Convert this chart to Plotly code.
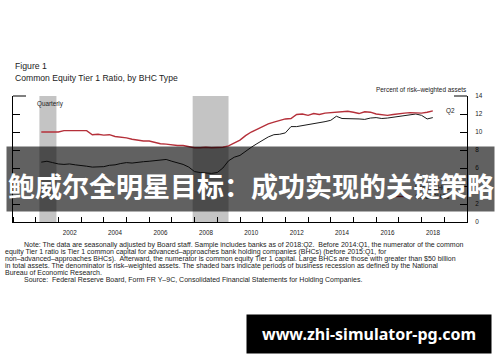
import plotly.graph_objects as go
import pandas as pd

# ---------------- data ----------------
quarters = pd.period_range("2001Q1", "2018Q2", freq="Q")
dates = [p.end_time.strftime("%Y-%m-%d") for p in quarters]

other_bhcs = [10.0, 10.0, 10.05, 10.0, 10.15, 10.15, 10.15, 10.1, 10.15, 9.7,
              9.75, 9.65, 9.7, 9.5, 9.45, 9.35, 9.2, 9.1, 9.0, 9.0,
              8.85, 8.7, 8.65, 8.55, 8.5, 8.5, 8.4, 8.25, 8.25, 8.3,
              8.25, 8.3, 8.3, 8.45, 8.8, 9.1, 9.6, 10.0, 10.3, 10.6,
              10.9, 11.1, 11.3, 11.45, 11.5, 11.95, 12.0, 11.85, 12.05, 11.95,
              12.1, 12.15, 12.2, 12.3, 12.3, 12.2, 12.05, 12.25, 12.2, 12.0,
              11.9, 11.85, 11.95, 12.05, 12.1, 12.15, 12.1, 12.1, 12.2, 12.35]

large_bhcs = [6.65, 6.75, 6.6, 6.45, 6.4, 6.45, 6.35, 6.3, 6.2, 6.1,
              6.1, 6.15, 6.3, 6.35, 6.5, 6.6, 6.55, 6.65, 6.7, 6.75,
              6.8, 6.85, 6.95, 6.75, 6.6, 6.4, 6.1, 5.6, 5.5, 5.45,
              5.4, 5.5, 6.0, 6.8, 7.2, 7.4, 7.9, 8.3, 8.7, 9.1,
              9.45, 9.7, 9.75, 9.9, 10.6, 10.6, 10.7, 10.85, 10.95, 11.0,
              11.15, 11.3, 11.75, 11.5, 11.5, 11.5, 11.45, 11.4, 11.55, 11.6,
              11.5, 11.55, 11.65, 11.75, 11.85, 11.9, 12.0, 11.85, 11.45, 11.6]

recession_starts = ["2001-03-01", "2007-12-01"]
recession_ends = ["2001-11-30", "2009-06-30"]

year_labels = [str(y) for y in range(2002, 2019, 2)]
year_label_pos = [f"{y}-07-01" for y in range(2002, 2019, 2)]
y_ticks = list(range(0, 15, 2))

series_names = ["Large BHCs", "Other BHCs"]
series_colors = ["#1a1a1a", "#b5303a"]

title_lines = ["Figure 1", "Common Equity Tier 1 Ratio, by BHC Type"]
note_lines = [
    "Note: The data are seasonally adjusted by Board staff. Sample includes banks as of 2018:Q2.  Before 2014:Q1, the numerator of the common",
    "equity Tier 1 ratio is Tier 1 common capital for advanced\u2013approaches bank holding companies (BHCs) (before 2015:Q1, for",
    "non\u2013advanced\u2013approaches BHCs).  Afterward, the numerator is common equity Tier 1 capital. Large BHCs are those with greater than $50 billion",
    "in total assets. The denominator is risk\u2013weighted assets. The shaded bars indicate periods of business recession as defined by the National",
    "Bureau of Economic Research.",
    "Source:  Federal Reserve Board, Form FR Y\u20139C, Consolidated Financial Statements for Holding Companies.",
]
banner_text = "鲍威尔全明星目标：成功实现的关键策略"
watermark_text = "www.zhi-simulator-pg.com"

# ---------------- layout geometry (pixels) ----------------
W, H = 500, 362
L, R, T, B = 13, 467, 96, 222


def px(x):
    return (x - L) / (R - L)


def py(y):
    return (B - y) / (B - T)


FONT = "Liberation Sans, Arial, sans-serif"
TXT = "#222222"

fig = go.Figure()
fig.add_trace(go.Scatter(x=dates, y=large_bhcs, mode="lines", name=series_names[0],
                         line=dict(color=series_colors[0], width=1)))
fig.add_trace(go.Scatter(x=dates, y=other_bhcs, mode="lines", name=series_names[1],
                         line=dict(color=series_colors[1], width=1.4)))

shapes = []
for s, e in zip(recession_starts, recession_ends):
    shapes.append(dict(type="rect", xref="x", yref="paper", x0=s, x1=e, y0=0, y1=1,
                       fillcolor="#c4c4c4", line=dict(width=0), layer="below"))
# top corner stubs
shapes.append(dict(type="line", xref="paper", yref="paper", x0=0, x1=px(26), y0=1, y1=1,
                   line=dict(color="black", width=1)))
shapes.append(dict(type="line", xref="paper", yref="paper", x0=px(454), x1=1, y0=1, y1=1,
                   line=dict(color="black", width=1)))
# legend keys
legend_y = [187.5, 196.5]
for c, ly in zip(series_colors, legend_y):
    shapes.append(dict(type="line", xref="paper", yref="paper", x0=px(393), x1=px(410),
                       y0=py(ly), y1=py(ly), line=dict(color=c, width=1.4)))

ann = []
ann.append(dict(text=title_lines[0], x=px(13), y=py(66), xref="paper", yref="paper",
                xanchor="left", yanchor="middle", showarrow=False,
                font=dict(size=8.7, color=TXT, family=FONT)))
ann.append(dict(text=title_lines[1], x=px(13), y=py(77.5), xref="paper", yref="paper",
                xanchor="left", yanchor="middle", showarrow=False,
                font=dict(size=8.6, color=TXT, family=FONT)))
ann.append(dict(text="Quarterly", x=px(35), y=py(103.5), xref="paper", yref="paper",
                xanchor="left", yanchor="middle", showarrow=False,
                font=dict(size=6.3, color=TXT, family=FONT)))
ann.append(dict(text="Percent of risk\u2013weighted assets", x=px(468), y=py(90), xref="paper",
                yref="paper", xanchor="right", yanchor="middle", showarrow=False,
                font=dict(size=6.4, color=TXT, family=FONT)))
ann.append(dict(text="Q2", x=px(444), y=py(111), xref="paper", yref="paper",
                xanchor="left", yanchor="middle", showarrow=False,
                font=dict(size=6.4, color=TXT, family=FONT)))
for name, ly in zip(series_names, legend_y):
    ann.append(dict(text=name, x=px(413), y=py(ly), xref="paper", yref="paper",
                    xanchor="left", yanchor="middle", showarrow=False,
                    font=dict(size=6.4, color=TXT, family=FONT)))
note_y = [245, 252, 259, 265.8, 272.7, 280]
note_x = [21.5, 3, 3, 3, 3, 21.5]
for t, nx, ny in zip(note_lines, note_x, note_y):
    ann.append(dict(text=t, x=px(nx), y=py(ny), xref="paper", yref="paper",
                    xanchor="left", yanchor="middle", showarrow=False,
                    font=dict(size=7.0, color=TXT, family=FONT)))
# banner box and text
ann.append(dict(text=" ", x=px(250.5), y=py(179), xref="paper", yref="paper",
                xanchor="center", yanchor="middle", showarrow=False,
                width=487, height=64, bgcolor="rgba(0,0,0,0.62)", borderpad=0,
                font=dict(size=10)))
ann.append(dict(text="<b>" + banner_text + "</b>", x=px(250.5), y=py(185), xref="paper",
                yref="paper", xanchor="center", yanchor="middle", showarrow=False,
                font=dict(size=27, color="white", family="Noto Sans CJK SC")))
# watermark
ann.append(dict(text="<b>" + watermark_text + "</b>", x=px(369), y=py(334), xref="paper",
                yref="paper", xanchor="center", yanchor="middle", showarrow=False,
                width=244, height=38, bgcolor="black", borderpad=0,
                font=dict(size=16, color="white", family="Noto Sans, sans-serif")))

fig.update_layout(
    width=W, height=H,
    margin=dict(l=L, r=W - R, t=T, b=H - B, pad=0),
    paper_bgcolor="white", plot_bgcolor="white",
    showlegend=False,
    shapes=shapes,
    annotations=ann,
    font=dict(family=FONT, color=TXT),
)
fig.update_xaxes(
    type="date", range=["2000-01-01", "2020-01-01"],
    tickmode="array", tickvals=year_label_pos, ticktext=year_labels,
    ticks="", showgrid=False, zeroline=False,
    showline=True, linecolor="black", linewidth=1,
    tickfont=dict(size=6.3, color=TXT, family=FONT),
    ticklabelstandoff=4,
    minor=dict(tickmode="linear", tick0="2000-01-01", dtick="M12", ticks="inside",
               ticklen=5, tickwidth=1, tickcolor="black", showgrid=False),
)
fig.update_yaxes(
    range=[0, 14], side="right", tickmode="array", tickvals=y_ticks,
    ticks="inside", ticklen=7, tickwidth=1, tickcolor="black",
    showline=True, linecolor="black", linewidth=1, mirror="ticks",
    showgrid=False, zeroline=False,
    tickfont=dict(size=6.4, color=TXT, family=FONT),
    ticklabelstandoff=6,
)

fig.write_html("out.html")
